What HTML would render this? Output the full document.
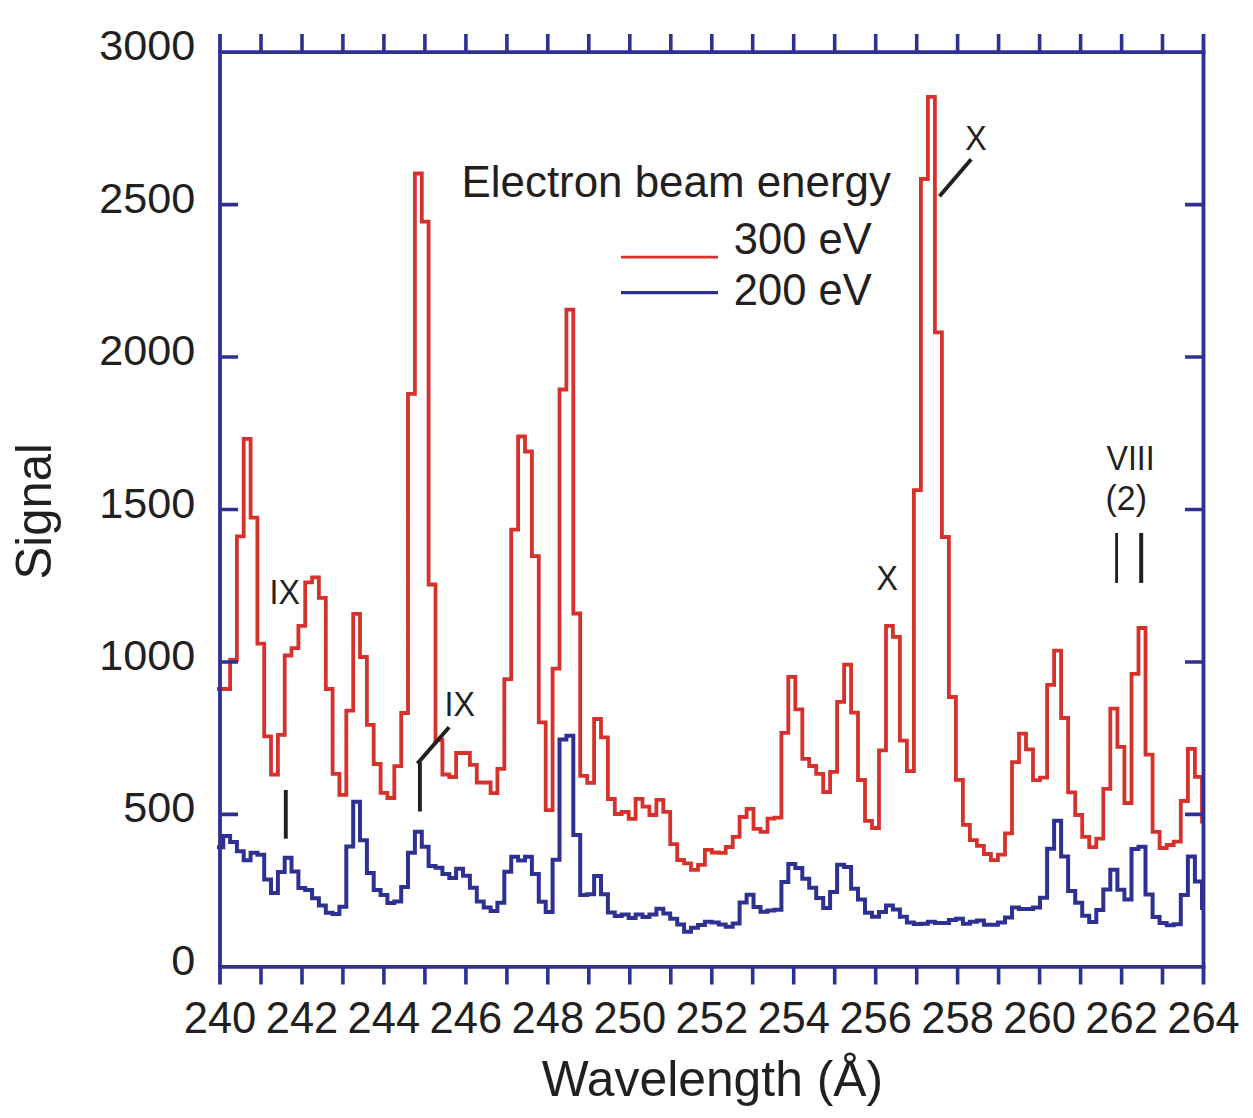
<!DOCTYPE html>
<html><head><meta charset="utf-8"><title>Spectrum</title>
<style>html,body{margin:0;padding:0;background:#fff}svg{display:block}text{font-family:"Liberation Sans",sans-serif;fill:#231f20}</style></head>
<body>
<svg width="1253" height="1118" viewBox="0 0 1253 1118">
<rect width="1253" height="1118" fill="#fff"/>
<path d="M217.0 689.0H223.3V689.0H230.1V659.9H236.9V536.4H243.7V438.9H250.6V517.6H257.4V643.7H264.2V736.4H271.0V774.6H277.9V734.9H284.7V655.5H291.5V648.1H298.4V625.8H305.2V582.3H312.1V577.4H318.9V597.9H325.8V689.0H332.6V773.8H339.4V794.9H346.3V710.7H353.2V613.9H360.0V657.0H366.9V724.8H373.7V764.0H380.6V792.9H387.4V798.0H394.3V766.1H401.2V713.0H408.0V393.8H414.9V173.5H421.8V221.6H428.6V584.5H435.5V740.0H442.4V774.5H449.3V777.0H456.1V753.0H463.0V753.0H469.9V764.8H476.8V782.5H483.7V782.5H490.6V793.2H497.4V768.9H504.3V679.2H511.2V529.6H518.1V436.5H525.0V451.5H531.9V556.2H538.8V722.4H545.7V810.2H552.6V668.7H559.5V389.5H566.4V309.7H573.3V613.5H580.2V775.8H587.2V782.9H594.1V719.0H601.0V737.4H607.9V799.0H614.8V814.0H621.7V812.0H628.7V818.8H635.6V798.9H642.5V806.7H649.4V815.0H656.4V799.8H663.3V811.9H670.2V844.1H677.2V860.0H684.1V863.4H691.0V869.8H698.0V864.8H704.9V849.9H711.9V852.5H718.8V852.8H725.7V847.0H732.7V836.8H739.6V817.0H746.6V808.8H753.5V828.9H760.5V831.9H767.5V818.6H774.4V817.7H781.4V732.8H788.3V676.8H795.3V709.4H802.3V758.8H809.2V766.0H816.2V773.9H823.2V792.0H830.1V771.8H837.1V701.9H844.1V664.7H851.1V712.7H858.0V780.0H865.0V820.9H872.0V828.0H879.0V750.4H886.0V625.8H892.9V636.8H899.9V740.6H906.9V771.1H913.9V490.2H920.9V179.0H927.9V96.9H934.9V332.3H941.9V537.0H948.9V697.0H955.9V779.8H962.9V824.8H969.9V840.1H976.9V845.8H983.9V854.0H990.9V860.1H997.9V854.7H1005.0V833.4H1012.0V762.2H1019.0V733.7H1026.0V749.3H1033.0V780.2H1040.0V777.7H1047.1V684.8H1054.1V650.7H1061.1V718.0H1068.1V792.3H1075.2V815.0H1082.2V836.9H1089.2V847.2H1096.3V838.6H1103.3V788.8H1110.3V708.7H1117.4V746.9H1124.4V803.0H1131.5V673.9H1138.5V628.0H1145.5V754.7H1152.6V831.8H1159.6V848.0H1166.7V845.0H1173.7V841.6H1180.8V801.0H1187.9V748.9H1194.9V776.9H1202.0V821.5H1204.0" fill="none" stroke="#d6312b" stroke-width="3.8" stroke-linejoin="miter"/>
<path d="M217.0 847.2H223.3V836.1H230.1V842.0H236.9V851.3H243.7V860.2H250.6V852.8H257.4V854.7H264.2V879.5H271.0V893.0H277.9V872.0H284.7V857.7H291.5V871.4H298.4V888.0H305.2V889.9H312.1V898.3H318.9V905.6H325.8V912.8H332.6V914.1H339.4V906.8H346.3V846.4H353.2V801.7H360.0V840.2H366.9V873.0H373.7V889.9H380.6V895.0H387.4V903.0H394.3V901.6H401.2V887.0H408.0V852.8H414.9V831.8H421.8V846.8H428.6V865.9H435.5V867.8H442.4V874.0H449.3V878.0H456.1V868.7H463.0V875.7H469.9V887.8H476.8V901.5H483.7V907.6H490.6V911.0H497.4V902.8H504.3V871.7H511.2V856.8H518.1V860.6H525.0V856.8H531.9V873.9H538.8V901.7H545.7V911.9H552.6V859.8H559.5V739.6H566.4V735.8H573.3V834.9H580.2V894.9H587.2V894.2H594.1V875.9H601.0V894.2H607.9V912.5H614.8V916.0H621.7V914.5H628.7V918.0H635.6V914.5H642.5V917.0H649.4V914.5H656.4V908.8H663.3V913.6H670.2V918.8H677.2V924.5H684.1V931.7H691.0V927.8H698.0V925.0H704.9V921.7H711.9V922.4H718.8V924.5H725.7V926.7H732.7V923.6H739.6V902.4H746.6V894.8H753.5V907.0H760.5V911.7H767.5V910.6H774.4V909.8H781.4V881.9H788.3V864.0H795.3V868.0H802.3V878.7H809.2V887.7H816.2V898.0H823.2V908.1H830.1V891.9H837.1V864.8H844.1V866.9H851.1V888.7H858.0V899.5H865.0V912.8H872.0V916.7H879.0V911.9H886.0V905.6H892.9V909.5H899.9V916.7H906.9V922.4H913.9V924.1H920.9V923.8H927.9V921.7H934.9V923.1H941.9V923.1H948.9V919.9H955.9V918.8H962.9V923.8H969.9V921.7H976.9V920.5H983.9V924.8H990.9V924.8H997.9V922.4H1005.0V917.4H1012.0V907.6H1019.0V909.1H1026.0V909.1H1033.0V907.6H1040.0V897.8H1047.1V848.7H1054.1V820.8H1061.1V856.5H1068.1V890.9H1075.2V902.8H1082.2V915.7H1089.2V922.0H1096.3V909.9H1103.3V889.6H1110.3V869.7H1117.4V889.7H1124.4V899.5H1131.5V849.1H1138.5V846.8H1145.5V894.5H1152.6V916.9H1159.6V923.1H1166.7V925.2H1173.7V924.2H1180.8V894.9H1187.9V856.5H1194.9V881.6H1202.0V908.1H1204.0" fill="none" stroke="#2e3192" stroke-width="4" stroke-linejoin="miter"/>
<g stroke="#2e3192" stroke-width="3.8" fill="none" stroke-linecap="butt">
<path d="M220.0 34V984.6M1203.5 34V984.6"/>
<path d="M218.1 52.1H1205.4M218.1 966.9H1205.4" stroke-width="3.9"/>
<path d="M261.0 34V52.1M261.0 966.9V984.6M302.0 34V52.1M302.0 966.9V984.6M342.9 34V52.1M342.9 966.9V984.6M383.9 34V52.1M383.9 966.9V984.6M424.9 34V52.1M424.9 966.9V984.6M465.9 34V52.1M465.9 966.9V984.6M506.9 34V52.1M506.9 966.9V984.6M547.8 34V52.1M547.8 966.9V984.6M588.8 34V52.1M588.8 966.9V984.6M629.8 34V52.1M629.8 966.9V984.6M670.8 34V52.1M670.8 966.9V984.6M711.8 34V52.1M711.8 966.9V984.6M752.7 34V52.1M752.7 966.9V984.6M793.7 34V52.1M793.7 966.9V984.6M834.7 34V52.1M834.7 966.9V984.6M875.7 34V52.1M875.7 966.9V984.6M916.7 34V52.1M916.7 966.9V984.6M957.6 34V52.1M957.6 966.9V984.6M998.6 34V52.1M998.6 966.9V984.6M1039.6 34V52.1M1039.6 966.9V984.6M1080.6 34V52.1M1080.6 966.9V984.6M1121.6 34V52.1M1121.6 966.9V984.6M1162.5 34V52.1M1162.5 966.9V984.6" stroke-width="3.6"/>
<path d="M220.0 814.4H238M1203.5 814.4H1185M220.0 662.0H238M1203.5 662.0H1185M220.0 509.5H238M1203.5 509.5H1185M220.0 357.0H238M1203.5 357.0H1185M220.0 204.6H238M1203.5 204.6H1185" stroke-width="3.6"/>
</g>
<g font-size="43.2" text-anchor="end">
<text x="195.4" y="974.9">0</text>
<text x="195.4" y="822.4">500</text>
<text x="195.4" y="670.0">1000</text>
<text x="195.4" y="517.5">1500</text>
<text x="195.4" y="365.0">2000</text>
<text x="195.4" y="212.6">2500</text>
<text x="195.4" y="60.1">3000</text>
</g>
<g font-size="43.5" text-anchor="middle">
<text x="220.0" y="1033.2">240</text>
<text x="302.0" y="1033.2">242</text>
<text x="383.9" y="1033.2">244</text>
<text x="465.9" y="1033.2">246</text>
<text x="547.8" y="1033.2">248</text>
<text x="629.8" y="1033.2">250</text>
<text x="711.8" y="1033.2">252</text>
<text x="793.7" y="1033.2">254</text>
<text x="875.7" y="1033.2">256</text>
<text x="957.6" y="1033.2">258</text>
<text x="1039.6" y="1033.2">260</text>
<text x="1121.6" y="1033.2">262</text>
<text x="1203.5" y="1033.2">264</text>
</g>
<text id="xl" x="712.4" y="1095.5" font-size="49.8" text-anchor="middle">Wavelength (Å)</text>
<text id="yl" transform="translate(51.2 511.3) rotate(-90) scale(1 1.025)" font-size="49" text-anchor="middle">Signal</text>
<text id="ttl" x="461.5" y="197.3" font-size="43.9">Electron beam energy</text>
<text id="l1" x="733.8" y="253.5" font-size="43.5">300 eV</text>
<text id="l2" x="733.8" y="305" font-size="43.5">200 eV</text>
<path d="M621 257.1H718" stroke="#d6312b" stroke-width="2.6"/>
<path d="M621 292.6H718" stroke="#2e3192" stroke-width="3.3"/>
<g stroke="#231f20" stroke-width="3.9" fill="none">
<path d="M285.8 790V838.7"/>
<path d="M419.9 811.5V762.2"/><path d="M417.4 763.6L449.1 727.2"/>
<path d="M939.5 196.3L971.2 159.2"/>
<path d="M1116.6 533V582.9" stroke-width="2.9"/>
<path d="M1141.2 533V582.9" stroke-width="4"/>
</g>
<g font-size="34.2">
<text id="a1" transform="translate(269.5 604) scale(0.94 1)">IX</text>
<text id="a2" transform="translate(444.6 715.8) scale(0.94 1)">IX</text>
<text id="a3" transform="translate(876.4 589.8) scale(0.94 1)">X</text>
<text id="a4" transform="translate(965.3 149.6) scale(0.94 1)">X</text>
<text id="a5" transform="translate(1106.5 469.8) scale(0.94 1)">VIII</text>
<text id="a6" transform="translate(1105.6 510.2) scale(0.99 1)">(2)</text>
</g>
</svg>
</body></html>
